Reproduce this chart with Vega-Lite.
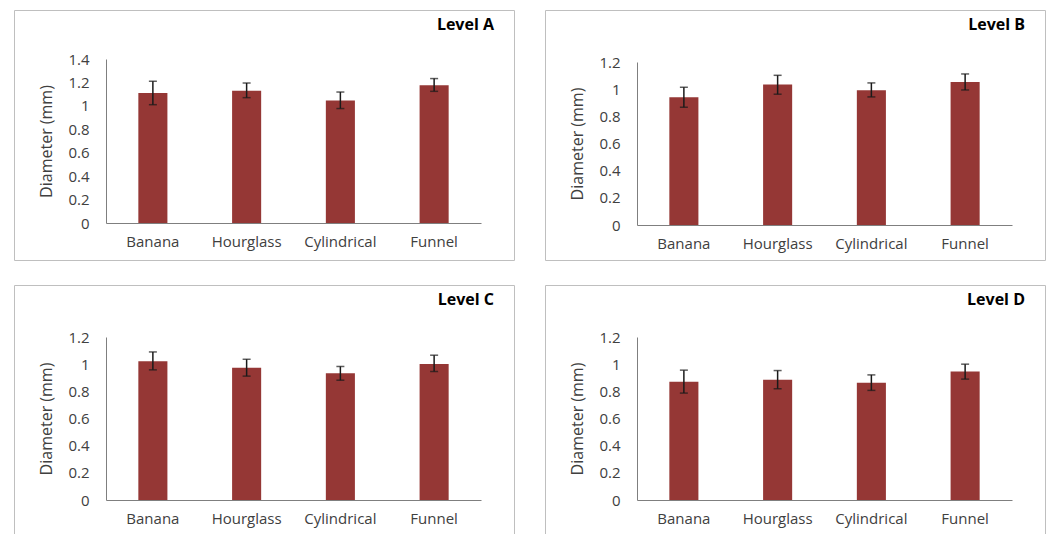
{
  "$schema": "https://vega.github.io/schema/vega-lite/v6.json",
  "padding": {"left": 13, "top": 9, "right": 0, "bottom": 0},
  "background": "white",
  "data": {"values": [
    {"level": "A", "shape": "Banana", "mean": 1.11, "lo": 1.01, "hi": 1.21},
    {"level": "A", "shape": "Hourglass", "mean": 1.13, "lo": 1.07, "hi": 1.195},
    {"level": "A", "shape": "Cylindrical", "mean": 1.045, "lo": 0.977, "hi": 1.118},
    {"level": "A", "shape": "Funnel", "mean": 1.175, "lo": 1.124, "hi": 1.233},
    {"level": "B", "shape": "Banana", "mean": 0.94, "lo": 0.867, "hi": 1.014},
    {"level": "B", "shape": "Hourglass", "mean": 1.034, "lo": 0.963, "hi": 1.102},
    {"level": "B", "shape": "Cylindrical", "mean": 0.992, "lo": 0.943, "hi": 1.046},
    {"level": "B", "shape": "Funnel", "mean": 1.053, "lo": 0.994, "hi": 1.112},
    {"level": "C", "shape": "Banana", "mean": 1.022, "lo": 0.958, "hi": 1.09},
    {"level": "C", "shape": "Hourglass", "mean": 0.973, "lo": 0.912, "hi": 1.036},
    {"level": "C", "shape": "Cylindrical", "mean": 0.934, "lo": 0.882, "hi": 0.983},
    {"level": "C", "shape": "Funnel", "mean": 1.002, "lo": 0.946, "hi": 1.066},
    {"level": "D", "shape": "Banana", "mean": 0.87, "lo": 0.787, "hi": 0.956},
    {"level": "D", "shape": "Hourglass", "mean": 0.885, "lo": 0.819, "hi": 0.953},
    {"level": "D", "shape": "Cylindrical", "mean": 0.863, "lo": 0.807, "hi": 0.921},
    {"level": "D", "shape": "Funnel", "mean": 0.946, "lo": 0.89, "hi": 1.0}
  ]},
  "columns": 2,
  "spacing": {"row": 25, "column": 31},
  "bounds": "flush",
  "concat": [
    {
      "width": 500, "height": 250,
      "title": {"text": "Level A", "anchor": "end", "frame": "group", "offset": -36, "baseline": "alphabetic", "dx": -20},
      "transform": [{"filter": "datum.level == 'A'"}],
      "encoding": {"x": {"field": "shape", "type": "nominal", "title": null, "sort": ["Banana", "Hourglass", "Cylindrical", "Funnel"], "scale": {"range": [92, 467], "paddingInner": 0.69, "paddingOuter": 0.345}, "axis": {"offset": -37}}},
      "layer": [
        {"mark": {"type": "bar", "color": "#953735"}, "encoding": {"y": {"field": "mean", "type": "quantitative", "title": "Diameter (mm)", "scale": {"domain": [0, 1.4], "range": [213, 49], "nice": false}, "axis": {"offset": -92, "values": [0, 0.2, 0.4, 0.6, 0.8, 1, 1.2, 1.4], "format": "~g", "labelOverlap": false}}}},
        {"mark": {"type": "rule", "color": "#1a1a1a", "strokeWidth": 1.5}, "encoding": {"y": {"field": "lo", "type": "quantitative", "title": "Diameter (mm)", "scale": {"domain": [0, 1.4], "range": [213, 49], "nice": false}, "axis": {"offset": -92, "values": [0, 0.2, 0.4, 0.6, 0.8, 1, 1.2, 1.4], "format": "~g", "labelOverlap": false}}, "y2": {"field": "hi"}}},
        {"mark": {"type": "tick", "color": "#1a1a1a", "size": 8, "thickness": 1.5}, "encoding": {"y": {"field": "lo", "type": "quantitative", "title": "Diameter (mm)", "scale": {"domain": [0, 1.4], "range": [213, 49], "nice": false}, "axis": {"offset": -92, "values": [0, 0.2, 0.4, 0.6, 0.8, 1, 1.2, 1.4], "format": "~g", "labelOverlap": false}}}},
        {"mark": {"type": "tick", "color": "#1a1a1a", "size": 8, "thickness": 1.5}, "encoding": {"y": {"field": "hi", "type": "quantitative", "title": "Diameter (mm)", "scale": {"domain": [0, 1.4], "range": [213, 49], "nice": false}, "axis": {"offset": -92, "values": [0, 0.2, 0.4, 0.6, 0.8, 1, 1.2, 1.4], "format": "~g", "labelOverlap": false}}}}
      ]
    },
    {
      "width": 500, "height": 250,
      "title": {"text": "Level B", "anchor": "end", "frame": "group", "offset": -36, "baseline": "alphabetic", "dx": -20},
      "transform": [{"filter": "datum.level == 'B'"}],
      "encoding": {"x": {"field": "shape", "type": "nominal", "title": null, "sort": ["Banana", "Hourglass", "Cylindrical", "Funnel"], "scale": {"range": [92, 467], "paddingInner": 0.69, "paddingOuter": 0.345}, "axis": {"offset": -35}}},
      "layer": [
        {"mark": {"type": "bar", "color": "#953735"}, "encoding": {"y": {"field": "mean", "type": "quantitative", "title": "Diameter (mm)", "scale": {"domain": [0, 1.2], "range": [215, 52], "nice": false}, "axis": {"offset": -92, "values": [0, 0.2, 0.4, 0.6, 0.8, 1, 1.2], "format": "~g", "labelOverlap": false}}}},
        {"mark": {"type": "rule", "color": "#1a1a1a", "strokeWidth": 1.5}, "encoding": {"y": {"field": "lo", "type": "quantitative", "title": "Diameter (mm)", "scale": {"domain": [0, 1.2], "range": [215, 52], "nice": false}, "axis": {"offset": -92, "values": [0, 0.2, 0.4, 0.6, 0.8, 1, 1.2], "format": "~g", "labelOverlap": false}}, "y2": {"field": "hi"}}},
        {"mark": {"type": "tick", "color": "#1a1a1a", "size": 8, "thickness": 1.5}, "encoding": {"y": {"field": "lo", "type": "quantitative", "title": "Diameter (mm)", "scale": {"domain": [0, 1.2], "range": [215, 52], "nice": false}, "axis": {"offset": -92, "values": [0, 0.2, 0.4, 0.6, 0.8, 1, 1.2], "format": "~g", "labelOverlap": false}}}},
        {"mark": {"type": "tick", "color": "#1a1a1a", "size": 8, "thickness": 1.5}, "encoding": {"y": {"field": "hi", "type": "quantitative", "title": "Diameter (mm)", "scale": {"domain": [0, 1.2], "range": [215, 52], "nice": false}, "axis": {"offset": -92, "values": [0, 0.2, 0.4, 0.6, 0.8, 1, 1.2], "format": "~g", "labelOverlap": false}}}}
      ]
    },
    {
      "width": 500, "height": 250,
      "title": {"text": "Level C", "anchor": "end", "frame": "group", "offset": -36, "baseline": "alphabetic", "dx": -20},
      "transform": [{"filter": "datum.level == 'C'"}],
      "encoding": {"x": {"field": "shape", "type": "nominal", "title": null, "sort": ["Banana", "Hourglass", "Cylindrical", "Funnel"], "scale": {"range": [92, 467], "paddingInner": 0.69, "paddingOuter": 0.345}, "axis": {"offset": -35}}},
      "layer": [
        {"mark": {"type": "bar", "color": "#953735"}, "encoding": {"y": {"field": "mean", "type": "quantitative", "title": "Diameter (mm)", "scale": {"domain": [0, 1.2], "range": [215, 52], "nice": false}, "axis": {"offset": -92, "values": [0, 0.2, 0.4, 0.6, 0.8, 1, 1.2], "format": "~g", "labelOverlap": false}}}},
        {"mark": {"type": "rule", "color": "#1a1a1a", "strokeWidth": 1.5}, "encoding": {"y": {"field": "lo", "type": "quantitative", "title": "Diameter (mm)", "scale": {"domain": [0, 1.2], "range": [215, 52], "nice": false}, "axis": {"offset": -92, "values": [0, 0.2, 0.4, 0.6, 0.8, 1, 1.2], "format": "~g", "labelOverlap": false}}, "y2": {"field": "hi"}}},
        {"mark": {"type": "tick", "color": "#1a1a1a", "size": 8, "thickness": 1.5}, "encoding": {"y": {"field": "lo", "type": "quantitative", "title": "Diameter (mm)", "scale": {"domain": [0, 1.2], "range": [215, 52], "nice": false}, "axis": {"offset": -92, "values": [0, 0.2, 0.4, 0.6, 0.8, 1, 1.2], "format": "~g", "labelOverlap": false}}}},
        {"mark": {"type": "tick", "color": "#1a1a1a", "size": 8, "thickness": 1.5}, "encoding": {"y": {"field": "hi", "type": "quantitative", "title": "Diameter (mm)", "scale": {"domain": [0, 1.2], "range": [215, 52], "nice": false}, "axis": {"offset": -92, "values": [0, 0.2, 0.4, 0.6, 0.8, 1, 1.2], "format": "~g", "labelOverlap": false}}}}
      ]
    },
    {
      "width": 500, "height": 250,
      "title": {"text": "Level D", "anchor": "end", "frame": "group", "offset": -36, "baseline": "alphabetic", "dx": -20},
      "transform": [{"filter": "datum.level == 'D'"}],
      "encoding": {"x": {"field": "shape", "type": "nominal", "title": null, "sort": ["Banana", "Hourglass", "Cylindrical", "Funnel"], "scale": {"range": [92, 467], "paddingInner": 0.69, "paddingOuter": 0.345}, "axis": {"offset": -35}}},
      "layer": [
        {"mark": {"type": "bar", "color": "#953735"}, "encoding": {"y": {"field": "mean", "type": "quantitative", "title": "Diameter (mm)", "scale": {"domain": [0, 1.2], "range": [215, 52], "nice": false}, "axis": {"offset": -92, "values": [0, 0.2, 0.4, 0.6, 0.8, 1, 1.2], "format": "~g", "labelOverlap": false}}}},
        {"mark": {"type": "rule", "color": "#1a1a1a", "strokeWidth": 1.5}, "encoding": {"y": {"field": "lo", "type": "quantitative", "title": "Diameter (mm)", "scale": {"domain": [0, 1.2], "range": [215, 52], "nice": false}, "axis": {"offset": -92, "values": [0, 0.2, 0.4, 0.6, 0.8, 1, 1.2], "format": "~g", "labelOverlap": false}}, "y2": {"field": "hi"}}},
        {"mark": {"type": "tick", "color": "#1a1a1a", "size": 8, "thickness": 1.5}, "encoding": {"y": {"field": "lo", "type": "quantitative", "title": "Diameter (mm)", "scale": {"domain": [0, 1.2], "range": [215, 52], "nice": false}, "axis": {"offset": -92, "values": [0, 0.2, 0.4, 0.6, 0.8, 1, 1.2], "format": "~g", "labelOverlap": false}}}},
        {"mark": {"type": "tick", "color": "#1a1a1a", "size": 8, "thickness": 1.5}, "encoding": {"y": {"field": "hi", "type": "quantitative", "title": "Diameter (mm)", "scale": {"domain": [0, 1.2], "range": [215, 52], "nice": false}, "axis": {"offset": -92, "values": [0, 0.2, 0.4, 0.6, 0.8, 1, 1.2], "format": "~g", "labelOverlap": false}}}}
      ]
    }
  ],
  "config": {
    "font": "Open Sans",
    "view": {"stroke": "#bfbfbf", "strokeWidth": 1},
    "title": {"font": "Open Sans", "fontSize": 16, "fontWeight": "bold", "color": "#000000"},
    "axis": {"grid": false, "ticks": false, "labelOverlap": false, "domainColor": "#7f7f7f", "domainWidth": 1, "labelColor": "#404040", "titleColor": "#404040", "labelFont": "Open Sans", "titleFont": "Open Sans", "titleFontWeight": "normal"},
    "axisX": {"labelFontSize": 15, "labelPadding": 11, "labelAngle": 0},
    "axisY": {"labelFontSize": 15, "labelPadding": 17, "titleFontSize": 16, "titlePadding": 13}
  }
}
